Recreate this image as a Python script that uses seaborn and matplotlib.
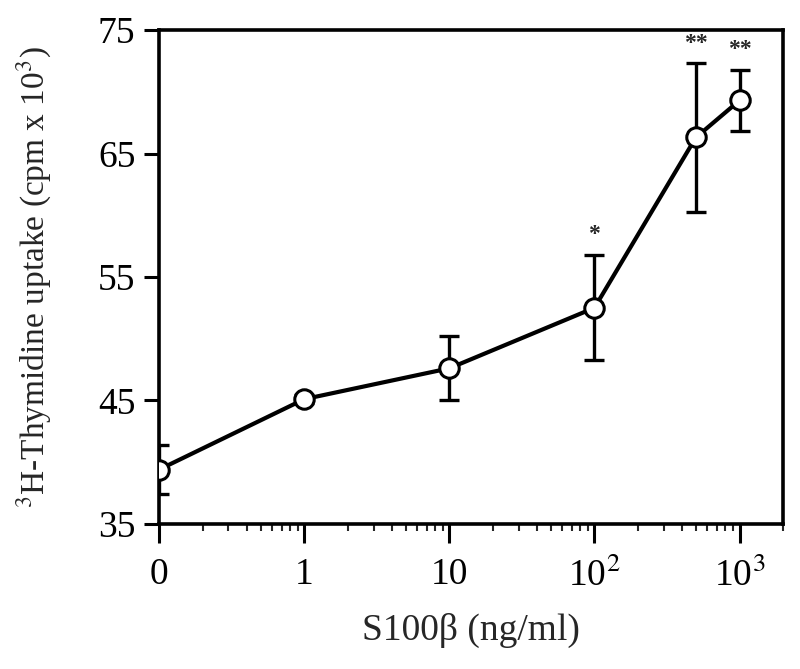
import numpy as np
import pandas as pd
import matplotlib
matplotlib.use('Agg')
import matplotlib.pyplot as plt
import seaborn as sns

# values
conc = [0, 1, 10, 100, 500, 1000]          # S100b, ng/ml
uptake = [39.4, 45.1, 47.6, 52.5, 66.3, 69.3]  # cpm x 10^3
err = [1.95, 0.3, 2.6, 4.25, 6.0, 2.5]
signif = ['', '', '', '*', '**', '**']
y_ticks = [35, 45, 55, 65, 75]
x_ticks = [0.1, 1, 10, 100, 1000]
x_ticklabels = ['0', '1', '10', '10$^2$', '10$^3$']

df = pd.DataFrame({'conc': conc, 'uptake': uptake, 'err': err, 'sig': signif})
# "0" is drawn one decade below 1 on the log axis
df['xpos'] = np.where(df['conc'] == 0, 0.1, df['conc'])

sns.set_theme(style='ticks')
plt.rcParams['font.family'] = ['Liberation Serif', 'DejaVu Serif']
plt.rcParams['mathtext.fontset'] = 'stix'

fig = plt.figure(figsize=(8, 6.69), dpi=100)
ax = fig.add_axes([0.199, 0.217, 0.780, 0.738])

ax.errorbar(df['xpos'], df['uptake'], yerr=df['err'], fmt='none',
            ecolor='black', elinewidth=2.4, capsize=7.5, capthick=2.4, zorder=1)
sns.lineplot(data=df, x='xpos', y='uptake', ax=ax, color='black', linewidth=3,
             marker='o', markersize=14, markerfacecolor='white',
             markeredgecolor='black', markeredgewidth=2.2, zorder=3)

for _, r in df.iterrows():
    if r['sig']:
        ax.text(r['xpos'], r['uptake'] + r['err'] + 0.8, r['sig'],
                ha='center', va='bottom', fontsize=17, fontweight='bold')

ax.set_xscale('log')
ax.set_xlim(0.1, 2000)
ax.set_ylim(35, 75)
ax.set_xticks(x_ticks)
ax.set_xticklabels(x_ticklabels)
ax.set_yticks(y_ticks)
ax.xaxis.set_minor_locator(matplotlib.ticker.LogLocator(base=10, subs=np.arange(2, 10)))
ax.xaxis.set_minor_formatter(matplotlib.ticker.NullFormatter())

ax.tick_params(axis='both', which='major', direction='out', width=2.2,
               labelsize=27, colors='black')
ax.tick_params(axis='x', which='major', length=14, pad=10)
ax.tick_params(axis='x', which='minor', direction='out', length=5, width=1.5)
ax.tick_params(axis='y', which='major', length=11, pad=6)

for s in ax.spines.values():
    s.set_visible(True)
    s.set_linewidth(2.6)
    s.set_color('black')

ax.set_xlabel('S100β (ng/ml)', fontsize=27, labelpad=14)
ax.set_ylabel('$^3$H-Thymidine uptake (cpm x 10$^3$)', fontsize=24, labelpad=32)

plt.savefig('out.png', dpi=100)
plt.close()
